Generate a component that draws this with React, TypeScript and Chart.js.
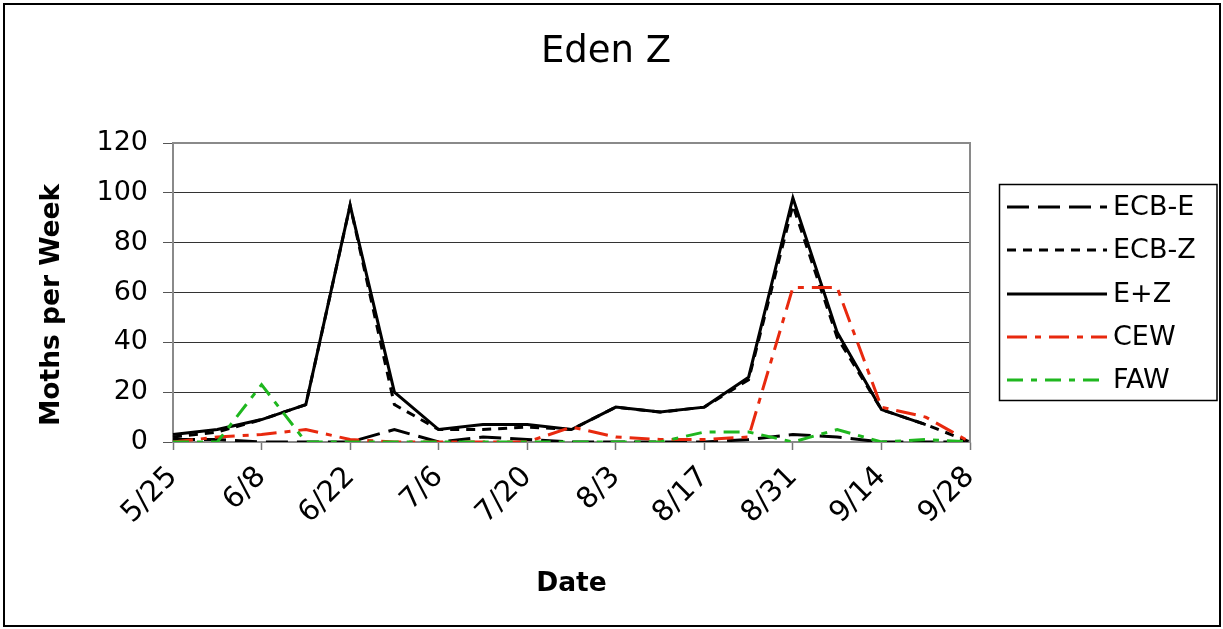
import React, { useEffect, useRef } from 'react';
import { Chart, registerables } from 'chart.js';

Chart.register(...registerables);

const dates = ['5/25', '6/1', '6/8', '6/15', '6/22', '6/29', '7/6', '7/13', '7/20', '7/27', '8/3', '8/10', '8/17', '8/24', '8/31', '9/7', '9/14', '9/21', '9/28'];
const ecbE = [1, 1, 0, 0, 0, 5, 0, 2, 1, 0, 0, 0, 0, 1, 3, 2, 0, 0, 0];
const ecbZ = [2, 4, 9, 15, 95, 15, 5, 5, 6, 5, 14, 12, 14, 25, 95, 42, 13, 7, 0];
const ePlusZ = [3, 5, 9, 15, 95, 20, 5, 7, 7, 5, 14, 12, 14, 26, 98, 44, 13, 7, null];
const cew = [0, 2, 3, 5, 1, 0, 0, 0, 0, 6, 2, 1, 1, 2, 62, 62, 14, 10, 0];
const faw = [0, 0, 23, 0, 0, 0, 0, 0, 0, 0, 0, 0, 4, 4, 0, 5, 0, 1, 0];
const yTicks = [0, 20, 40, 60, 80, 100, 120];

const FONT = "'DejaVu Sans', sans-serif";
const RED = '#e8290e';
const GREEN = '#1fb71f';

const seriesStyles = [
  { label: 'ECB-E', data: ecbE, color: '#000000', dash: [22, 9], width: 3, order: 5 },
  { label: 'ECB-Z', data: ecbZ, color: '#000000', dash: [9, 7], width: 3, order: 4 },
  { label: 'E+Z', data: ePlusZ, color: '#000000', dash: [], width: 3, order: 3 },
  { label: 'CEW', data: cew, color: RED, dash: [20, 8, 6, 8], width: 3, order: 2 },
  { label: 'FAW', data: faw, color: GREEN, dash: [16, 8, 6, 8], width: 3, order: 1 },
];

const decor = {
  id: 'decor',
  beforeDatasetsDraw(chart: any) {
    const { ctx, chartArea } = chart;
    ctx.save();
    ctx.strokeStyle = '#8a8a8a';
    ctx.lineWidth = 2;
    ctx.strokeRect(chartArea.left, chartArea.top, chartArea.right - chartArea.left, chartArea.bottom - chartArea.top);
    ctx.restore();
  },
  afterDraw(chart: any) {
    const { ctx } = chart;
    ctx.save();
    // outer border
    ctx.strokeStyle = '#000';
    ctx.lineWidth = 2;
    ctx.strokeRect(4, 4, 1216, 622);
    // title
    ctx.fillStyle = '#000';
    ctx.font = `37px ${FONT}`;
    ctx.textAlign = 'center';
    ctx.textBaseline = 'middle';
    ctx.fillText('Eden Z', 606, 52);
    // y axis title
    ctx.save();
    ctx.translate(52, 305);
    ctx.rotate(-Math.PI / 2);
    ctx.font = `bold 26.5px ${FONT}`;
    ctx.textAlign = 'center';
    ctx.textBaseline = 'middle';
    ctx.fillText('Moths per Week', 0, 0);
    ctx.restore();
    // legend
    ctx.lineWidth = 1.5;
    ctx.strokeStyle = '#000';
    ctx.strokeRect(999.5, 184.5, 1217 - 999.5, 400.5 - 184.5);
    const rowY = [207, 250, 294, 337, 380];
    seriesStyles.forEach((s, i) => {
      const y = rowY[i];
      ctx.beginPath();
      ctx.setLineDash(s.dash);
      ctx.strokeStyle = s.color;
      ctx.lineWidth = 3;
      ctx.moveTo(1007, y);
      ctx.lineTo(1107, y);
      ctx.stroke();
      ctx.setLineDash([]);
      ctx.fillStyle = '#000';
      ctx.font = `27px ${FONT}`;
      ctx.textAlign = 'left';
      ctx.textBaseline = 'middle';
      ctx.fillText(s.label, 1113, y + 1);
    });
    ctx.restore();
  },
};

export default function App() {
  const ref = useRef<HTMLCanvasElement>(null);
  useEffect(() => {
    document.body.style.margin = '0';
    const canvas = ref.current!;
    const chart = new Chart(canvas, {
      type: 'line',
      data: {
        labels: dates,
        datasets: seriesStyles.map((s) => ({
          label: s.label,
          data: s.data,
          borderColor: s.color,
          backgroundColor: s.color,
          borderDash: s.dash,
          borderWidth: s.width,
          pointRadius: 0,
          tension: 0,
          spanGaps: false,
          fill: false,
          order: s.order,
          borderCapStyle: 'butt',
          borderJoinStyle: 'miter',
        })),
      },
      options: {
        animation: false,
        responsive: false,
        layout: { padding: { left: 0, top: 143, right: 253, bottom: 0 } },
        plugins: {
          legend: { display: false },
          tooltip: { enabled: false },
          title: { display: false },
        },
        scales: {
          x: {
            type: 'category',
            offset: false,
            afterFit(scale: any) {
              scale.height = 187;
            },
            border: { display: true, color: '#555', width: 1.5 },
            grid: {
              display: true,
              drawOnChartArea: false,
              drawTicks: true,
              tickLength: 8,
              tickColor: (c: any) => (c.index % 2 === 0 ? '#777' : 'rgba(0,0,0,0)'),
              tickWidth: 1.5,
            },
            ticks: {
              autoSkip: false,
              minRotation: 45,
              maxRotation: 45,
              padding: 10,
              color: '#000',
              font: { family: FONT, size: 29 },
              callback: (_v: any, i: number) => (i % 2 === 0 ? dates[i] : ''),
            },
            title: {
              display: true,
              text: 'Date',
              color: '#000',
              font: { family: FONT, size: 26.5, weight: 'bold' },
              padding: { top: 0, bottom: 29 },
            },
          },
          y: {
            min: 0,
            max: 120,
            afterFit(scale: any) {
              scale.width = 173;
            },
            afterBuildTicks(scale: any) {
              scale.ticks = yTicks.map((v) => ({ value: v }));
            },
            border: { display: true, color: '#8a8a8a', width: 2 },
            grid: {
              color: '#333',
              lineWidth: 1,
              drawTicks: true,
              tickLength: 10,
              tickColor: '#555',
            },
            ticks: {
              padding: 15,
              color: '#000',
              font: { family: FONT, size: 27 },
            },
            title: { display: false },
          },
        },
      },
      plugins: [decor],
    } as any);
    return () => chart.destroy();
  }, []);
  return (
    <div style={{ position: 'relative', width: 1223, height: 629 }}>
      <canvas ref={ref} width={1223} height={629} style={{ display: 'block' }} />
    </div>
  );
}
